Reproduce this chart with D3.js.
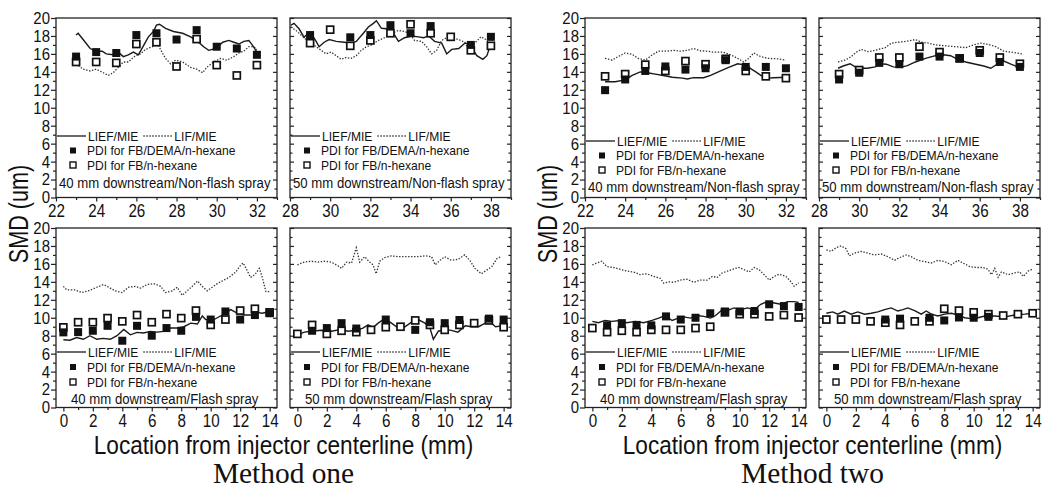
<!DOCTYPE html>
<html>
<head>
<meta charset="utf-8">
<script src="https://cdn.jsdelivr.net/npm/d3@7"></script>
<style>
  body { margin: 0; background: #fff; }
  svg { display: block; }
  text { font-family: "Liberation Sans", Arial, sans-serif; fill: #111; }
</style>
</head>
<body>
<svg id="chart" width="1052" height="489"></svg>
<script>
// x categories
const xNf40 = [23, 24, 25, 26, 27, 28, 29, 30, 31, 32]
const xNf50 = [29, 30, 31, 32, 33, 34, 35, 36, 37, 38]
const xFlash = [0, 1, 2, 3, 4, 5, 6, 7, 8, 9, 10, 11, 12, 13, 14]

// tick labels
const yTicks = [0, 2, 4, 6, 8, 10, 12, 14, 16, 18, 20]
const yMinor = [1, 3, 5, 7, 9, 11, 13, 15, 17, 19]
const xTicksNf40 = [22, 24, 26, 28, 30, 32]
const xMinorNf40 = [23, 25, 27, 29, 31, 33]
const xTicksNf50 = [28, 30, 32, 34, 36, 38]
const xMinorNf50 = [29, 31, 33, 35, 37, 39]
const xTicksFlash = [0, 2, 4, 6, 8, 10, 12, 14]
const xMinorFlash = [1, 3, 5, 7, 9, 11, 13]

// Method one, 40 mm, non-flash
const m1Nf40Dema = [15.7, 16.2, 16.1, 18.1, 18.3, 17.6, 18.65, 16.8, 16.6, 15.9]
const m1Nf40Hex = [15.1, 15.1, 15.0, 17.1, 17.3, 14.6, 17.65, 14.75, 13.6, 14.75]
const m1Nf40Lief = [[23.0,18.1],[23.1,18.3],[23.35,17.6],[23.7,16.6],[24.0,16.3],[24.3,16.3],[24.5,16.0],[24.85,15.9],[25.1,16.2],[25.35,15.7],[25.6,15.9],[25.85,16.2],[26.1,15.9],[26.35,16.9],[26.6,17.9],[26.85,18.5],[27.0,19.2],[27.15,19.3],[27.45,18.85],[27.85,18.5],[28.3,18.3],[28.7,17.9],[29.0,17.5],[29.35,16.8],[29.6,16.4],[29.95,16.6],[30.3,17.3],[30.6,17.5],[30.85,17.3],[31.1,17.1],[31.35,17.4],[31.6,17.5],[31.8,16.9],[32.0,16.2]]
const m1Nf40Lif = [[23.0,14.9],[23.35,14.3],[23.7,14.1],[24.0,14.3],[24.35,13.9],[24.6,13.6],[24.85,13.9],[25.1,14.5],[25.35,15.1],[25.6,15.1],[25.8,15.5],[25.95,15.8],[26.2,16.0],[26.45,16.5],[26.8,16.8],[27.05,17.2],[27.2,16.5],[27.45,15.5],[27.7,14.9],[27.95,15.3],[28.3,15.1],[28.7,14.5],[29.0,14.3],[29.3,13.9],[29.5,14.5],[29.85,15.1],[30.2,15.5],[30.5,15.3],[30.85,15.7],[31.1,16.1],[31.35,16.3],[31.6,16.8],[31.85,16.8],[32.0,16.5]]

// Method one, 50 mm, non-flash
const m1Nf50Dema = [18.1, null, 17.85, 18.1, 19.2, 18.3, 19.1, null, 17.0, 17.9]
const m1Nf50Hex = [17.2, 18.7, 16.9, 17.5, 18.3, 19.3, 18.3, 17.9, 16.4, 16.9]
const m1Nf50Lief = [[28.05,19.2],[28.2,19.4],[28.45,18.8],[28.7,17.85],[28.95,18.4],[29.1,18.1],[29.3,17.4],[29.45,16.8],[29.7,17.3],[29.95,17.6],[30.3,17.4],[30.7,17.3],[31.05,17.2],[31.3,17.4],[31.65,18.3],[31.9,19.0],[32.15,19.4],[32.3,19.7],[32.55,18.85],[32.8,18.8],[33.15,18.3],[33.4,17.4],[33.7,17.8],[34.05,18.0],[34.4,17.9],[34.65,17.8],[34.9,18.0],[35.2,17.4],[35.55,17.2],[35.8,16.0],[36.05,16.5],[36.4,16.6],[36.7,17.2],[36.95,17.1],[37.1,16.5],[37.3,15.8],[37.6,15.4],[37.8,15.8],[37.95,16.8],[38.05,17.3]]
const m1Nf50Lif = [[28.05,19.0],[28.3,18.6],[28.55,18.1],[28.8,17.6],[29.05,17.2],[29.3,16.8],[29.55,16.4],[29.8,16.0],[30.05,16.2],[30.3,15.8],[30.55,15.4],[30.8,15.6],[31.05,15.5],[31.3,15.8],[31.55,16.4],[31.8,16.8],[32.05,17.0],[32.4,17.5],[32.7,17.8],[33.05,18.3],[33.4,18.6],[33.7,18.5],[33.95,18.3],[34.2,17.5],[34.55,17.4],[34.8,16.8],[35.05,16.0],[35.3,16.4],[35.55,17.5],[35.8,17.8],[36.05,17.8],[36.4,17.6],[36.7,17.3],[36.95,16.3],[37.2,17.2],[37.5,17.9],[37.75,17.6],[38.0,16.9]]

// Method one, 40 mm, flash
const m1Fl40Dema = [8.37, 8.4, 8.55, 9.1, 7.44, 9.1, 8.0, 8.85, 8.55, 10.1, 9.8, 10.7, 9.8, 10.3, 10.5]
const m1Fl40Hex = [8.93, 9.5, 9.5, 9.96, 9.6, 10.3, 9.5, 10.4, 9.96, 10.8, 9.2, 9.8, 10.8, 11.0, 10.6]
const m1Fl40Lief = [[0,7.55],[0.45,7.5],[0.9,7.8],[1.36,7.6],[1.8,8.0],[2.27,7.6],[2.7,7.7],[3.18,7.6],[3.64,8.0],[4.1,8.7],[4.55,8.1],[5.0,8.37],[5.45,8.3],[5.9,8.48],[6.36,8.4],[6.8,8.48],[7.27,8.85],[7.73,8.85],[8.18,9.0],[8.64,9.4],[9.1,9.3],[9.43,10.2],[9.66,9.8],[10.1,9.7],[10.45,10.0],[10.9,10.4],[11.36,10.9],[11.7,10.6],[12.27,10.3],[12.7,10.3],[13.1,10.6],[13.5,10.5],[14.0,10.7]]
const m1Fl40Lif = [[0,13.5],[0.23,13.1],[0.8,13.1],[1.25,12.8],[1.7,13.0],[2.27,13.4],[2.73,13.7],[3.18,13.3],[3.52,13.0],[3.98,12.8],[4.43,13.4],[4.89,13.5],[5.23,13.3],[5.68,13.7],[6.14,13.8],[6.6,13.5],[6.93,12.8],[7.39,13.0],[7.73,13.4],[8.07,12.5],[8.4,13.0],[8.75,13.5],[9.1,14.1],[9.43,13.5],[9.77,13.0],[10.1,13.4],[10.45,13.8],[10.9,14.2],[11.25,14.5],[11.7,15.1],[12.05,15.9],[12.2,16.1],[12.4,15.5],[12.7,14.5],[13.0,14.8],[13.3,15.5],[13.5,14.5],[13.75,12.9],[14.0,12.9]]

// Method one, 50 mm, flash
const m1Fl50Dema = [null, 8.55, 8.85, 9.4, 8.8, null, 9.8, null, 8.65, 9.5, 9.4, 9.75, null, 9.9, 9.8]
const m1Fl50Hex = [8.2, 9.2, 8.2, 8.55, 8.4, 8.65, 8.95, 9.0, 9.7, 9.2, 8.65, 9.2, 9.4, 9.7, 8.95]
const m1Fl50Lief = [[0,8.1],[0.48,8.4],[0.93,8.5],[1.6,8.6],[2.3,8.5],[2.98,8.7],[3.43,8.5],[4.0,8.6],[4.45,8.85],[4.8,9.2],[5.14,8.9],[5.48,9.4],[5.93,9.9],[6.39,9.4],[6.84,8.85],[7.3,9.0],[7.75,9.5],[8.2,9.8],[8.66,9.4],[9.0,8.85],[9.23,7.6],[9.57,8.5],[10.0,8.7],[10.45,8.6],[10.9,8.4],[11.4,9.1],[11.84,9.0],[12.3,9.0],[12.75,9.4],[13.1,9.5],[13.45,9.0],[13.9,9.1]]
const m1Fl50Lif = [[0,15.9],[0.48,16.2],[0.93,16.3],[1.39,16.2],[1.84,16.3],[2.3,16.2],[2.75,15.8],[3.0,15.5],[3.34,16.2],[3.68,16.1],[4.0,17.8],[4.23,16.2],[4.57,16.8],[4.9,16.2],[5.14,15.9],[5.35,14.9],[5.59,16.3],[5.93,16.7],[6.39,16.9],[6.84,16.8],[7.3,16.8],[7.75,16.8],[8.2,16.8],[8.66,16.9],[9.11,16.8],[9.35,15.9],[9.68,16.4],[10.0,16.8],[10.45,16.4],[10.9,16.5],[11.36,17.0],[11.7,16.4],[12.05,15.5],[12.5,14.9],[12.84,15.3],[13.2,15.7],[13.55,16.6],[13.8,16.8]]

// Method two, 40 mm, non-flash
const m2Nf40Dema = [11.96, 13.15, 14.1, 14.6, 14.25, 14.4, 15.3, 14.55, 14.55, 14.4]
const m2Nf40Hex = [13.5, 13.75, 14.8, 14.1, 15.2, 14.85, 15.45, 14.1, 13.5, 13.3]
const m2Nf40Lief = [[23.0,12.9],[23.5,12.9],[24.0,13.1],[24.35,13.6],[24.75,14.0],[25.1,13.9],[25.5,13.75],[25.9,13.6],[26.35,13.4],[26.85,13.3],[27.1,13.2],[27.4,13.35],[27.9,13.35],[28.25,13.6],[28.75,14.1],[29.15,14.5],[29.6,14.9],[29.85,14.8],[30.15,14.5],[30.5,14.0],[30.75,13.6],[31.1,13.3],[31.4,13.35],[32.0,13.4]]
const m2Nf40Lif = [[23.0,15.5],[23.35,15.3],[23.65,15.7],[24.0,16.1],[24.35,15.95],[24.65,15.5],[25.0,15.3],[25.35,15.9],[25.65,16.3],[26.1,16.3],[26.4,16.4],[26.75,16.3],[27.1,16.4],[27.4,16.6],[27.75,16.35],[28.1,16.3],[28.4,16.2],[28.85,16.2],[29.25,15.9],[29.6,15.5],[29.9,15.1],[30.15,15.5],[30.4,16.1],[30.75,15.7],[31.1,15.5],[31.6,15.45],[32.0,15.3]]

// Method two, 50 mm, non-flash
const m2Nf50Dema = [13.15, 13.9, 15.0, 14.85, 15.7, 15.7, 15.5, 16.1, 15.1, 14.55]
const m2Nf50Hex = [13.75, 14.2, 15.6, 15.6, 16.8, 16.2, 15.5, 16.4, 15.6, 14.9]
const m2Nf50Lief = [[28.95,14.4],[29.2,14.65],[29.55,14.9],[29.8,14.55],[30.05,14.4],[30.4,14.4],[30.8,14.55],[31.05,14.9],[31.35,14.85],[31.7,14.55],[32.05,14.5],[32.4,14.7],[32.8,15.1],[33.3,15.5],[33.8,15.8],[34.2,15.9],[34.55,15.8],[34.85,15.45],[35.3,15.1],[35.8,14.85],[36.2,14.65],[36.55,14.4],[36.9,14.9],[37.2,15.2],[37.55,14.85],[37.9,14.55],[38.05,14.5]]
const m2Nf50Lif = [[28.95,15.1],[29.3,15.3],[29.6,15.7],[29.87,16.2],[30.1,16.5],[30.45,16.25],[30.7,16.35],[30.95,16.5],[31.3,16.7],[31.6,17.2],[31.95,17.3],[32.35,17.4],[32.8,17.6],[33.1,17.3],[33.45,17.2],[33.8,17.0],[34.3,16.9],[34.8,16.8],[35.3,16.7],[35.7,17.0],[36.05,17.2],[36.45,17.05],[36.8,16.8],[37.2,16.3],[37.55,16.2],[37.85,16.1],[38.1,16.0]]

// Method two, 40 mm, flash
const m2Fl40Dema = [null, 9.15, 9.4, 9.2, 9.15, 10.15, 9.8, 10.0, 10.5, 10.7, 10.7, 10.75, 11.5, 11.3, 11.2]
const m2Fl40Hex = [8.85, 8.4, 8.55, 8.4, 8.65, 8.65, 8.65, 8.85, 9.0, 10.6, 10.4, 10.4, 10.15, 10.3, 10.03]
const m2Fl40Lief = [[0,9.6],[0.41,9.45],[0.86,9.7],[1.32,9.6],[1.89,9.7],[2.34,9.45],[2.91,9.6],[3.48,9.45],[4.05,9.7],[4.5,9.96],[4.95,10.25],[5.41,9.7],[5.75,9.9],[6.2,10.1],[6.66,9.96],[7.11,10.25],[7.57,10.15],[8.02,9.96],[8.36,10.25],[8.82,10.9],[9.16,10.8],[9.61,11.1],[10.07,10.9],[10.52,11.1],[10.98,10.9],[11.43,11.5],[11.89,11.8],[12.34,11.65],[12.8,11.5],[13.25,11.8],[13.7,11.8],[14.0,11.7]]
const m2Fl40Lif = [[0,15.9],[0.3,16.1],[0.64,16.3],[0.98,15.7],[1.43,15.6],[1.89,15.4],[2.34,15.2],[2.8,15.1],[3.25,14.8],[3.7,14.9],[4.16,14.6],[4.61,14.4],[4.84,13.85],[5.18,14.0],[5.52,13.95],[5.98,14.2],[6.43,14.3],[6.89,13.95],[7.34,14.2],[7.8,14.2],[8.14,14.6],[8.48,14.5],[8.82,15.0],[9.16,15.2],[9.61,15.45],[9.95,15.6],[10.3,15.35],[10.64,15.1],[10.98,15.6],[11.32,15.35],[11.66,14.8],[12.0,14.2],[12.34,14.6],[12.68,14.85],[13.14,14.6],[13.48,14.0],[13.7,13.5],[14.0,13.9]]

// Method two, 50 mm, flash
const m2Fl50Dema = [null, null, null, null, 9.8, 9.9, null, 10.0, 9.7, 10.03, 10.0, 10.1, null, null, null]
const m2Fl50Hex = [9.8, 9.8, 9.8, 9.6, 9.45, 9.2, 9.6, 9.6, 11.0, 10.8, 10.6, 10.4, 10.25, 10.4, 10.5]
const m2Fl50Lief = [[0,10.5],[0.43,10.65],[0.77,10.4],[1.22,10.75],[1.68,10.4],[2.13,10.65],[2.59,10.4],[3.04,10.5],[3.49,10.65],[3.95,10.9],[4.4,11.1],[4.85,10.75],[5.19,10.9],[5.53,11.1],[5.99,10.8],[6.44,10.4],[6.78,10.75],[7.12,10.4],[7.57,10.2],[8.03,10.4],[8.48,10.5],[8.93,10.3],[9.39,10.0],[9.84,9.9],[10.29,10.0],[10.75,10.2],[11.43,10.2],[12.11,10.1],[12.79,10.3],[13.47,10.4],[14.0,10.5]]
const m2Fl50Lif = [[0,17.55],[0.32,17.4],[0.66,17.8],[1.0,18.0],[1.34,17.7],[1.56,16.9],[1.9,17.2],[2.36,17.4],[2.81,17.2],[3.27,17.0],[3.72,17.1],[4.17,16.8],[4.63,16.4],[4.97,16.7],[5.42,17.0],[5.76,16.8],[6.21,16.4],[6.67,16.25],[7.12,16.1],[7.57,16.4],[8.03,16.25],[8.48,15.9],[8.93,16.4],[9.27,16.1],[9.73,15.7],[10.18,15.6],[10.63,15.6],[10.97,15.4],[11.2,14.8],[11.43,15.5],[11.66,14.5],[11.88,15.1],[12.34,14.8],[12.79,15.0],[13.13,15.1],[13.36,14.6],[13.7,15.2],[14.04,15.45]]

// texts
const panelTitles = ['40 mm downstream/Non-flash spray', '50 mm downstream/Non-flash spray',
  '40 mm downstream/Flash spray', '50 mm downstream/Flash spray']
const groupTitles = ['Method one', 'Method two']

// layout
const groupX = [56, 585], colOff = 234, pw = 221, ph = 179.5
const rowY = [18, 228]
const K = 0.82   // the scanned figure is narrow, so squeeze the sans text

const panels = [
  { group: 0, row: 0, col: 0, xs: xNf40, dema: m1Nf40Dema, hex: m1Nf40Hex, lief: m1Nf40Lief, lif: m1Nf40Lif },
  { group: 0, row: 0, col: 1, xs: xNf50, dema: m1Nf50Dema, hex: m1Nf50Hex, lief: m1Nf50Lief, lif: m1Nf50Lif },
  { group: 0, row: 1, col: 0, xs: xFlash, dema: m1Fl40Dema, hex: m1Fl40Hex, lief: m1Fl40Lief, lif: m1Fl40Lif },
  { group: 0, row: 1, col: 1, xs: xFlash, dema: m1Fl50Dema, hex: m1Fl50Hex, lief: m1Fl50Lief, lif: m1Fl50Lif },
  { group: 1, row: 0, col: 0, xs: xNf40, dema: m2Nf40Dema, hex: m2Nf40Hex, lief: m2Nf40Lief, lif: m2Nf40Lif },
  { group: 1, row: 0, col: 1, xs: xNf50, dema: m2Nf50Dema, hex: m2Nf50Hex, lief: m2Nf50Lief, lif: m2Nf50Lif },
  { group: 1, row: 1, col: 0, xs: xFlash, dema: m2Fl40Dema, hex: m2Fl40Hex, lief: m2Fl40Lief, lif: m2Fl40Lif },
  { group: 1, row: 1, col: 1, xs: xFlash, dema: m2Fl50Dema, hex: m2Fl50Hex, lief: m2Fl50Lief, lif: m2Fl50Lif }
]

const svg = d3.select('#chart')
svg.append('rect').attr('width', 1052).attr('height', 489).attr('fill', '#fff')

// put a text at (x,y), squeezed horizontally
const label = (g, x, y, str, size, opt = {}) => {
  const t = g.append('text')
    .attr('transform', `translate(${x},${y})${opt.rot ? ' rotate(-90)' : ''} scale(${opt.k || K},1)`)
    .attr('font-size', size)
    .attr('text-anchor', opt.anchor || 'start')
    .attr('dy', '0.35em')
    .text(str)
  if (opt.serif) t.style('font-family', '"Liberation Serif", "Times New Roman", serif')
  return t
}

// squeeze axis tick labels
const squeeze = (sel, size, k) => {
  sel.attr('font-size', size).each(function () {
    const t = d3.select(this)
    const x = +t.attr('x') || 0, y = +t.attr('y') || 0
    t.attr('x', null).attr('y', null).attr('transform', `translate(${x},${y}) scale(${k},1)`)
  })
}

const drawPanel = (p) => {
  const flash = p.row === 1
  const domain = flash ? [-0.5, 14.5] : (p.col ? [28, 39] : [22, 33])
  const majors = flash ? xTicksFlash : (p.col ? xTicksNf50 : xTicksNf40)
  const minors = flash ? xMinorFlash : (p.col ? xMinorNf50 : xMinorNf40)
  const g = svg.append('g')
    .attr('transform', `translate(${groupX[p.group] + p.col * colOff},${rowY[p.row]})`)
  const x = d3.scaleLinear().domain(domain).range([0, pw])
  const y = d3.scaleLinear().domain([0, 20]).range([ph, 0])

  g.append('rect').attr('width', pw).attr('height', ph)
    .attr('fill', 'none').attr('stroke', '#222').attr('stroke-width', 1.3)

  // y axis: labelled on the first panel, mirrored ticks elsewhere
  if (p.col === 0) {
    const ya = g.append('g').call(d3.axisLeft(y).tickValues(yTicks).tickSize(5).tickPadding(1))
    squeeze(ya.selectAll('text'), 17, 0.88)
    g.append('g').call(d3.axisLeft(y).tickValues(yMinor).tickSize(3).tickFormat(''))
  } else {
    g.append('g').call(d3.axisRight(y).tickValues(yTicks).tickSize(4).tickFormat(''))
    g.append('g').call(d3.axisRight(y).tickValues(yMinor).tickSize(2.5).tickFormat(''))
  }
  g.append('g').attr('transform', `translate(${pw},0)`)
    .call(d3.axisLeft(y).tickValues(yTicks).tickSize(4).tickFormat(''))
  g.append('g').attr('transform', `translate(${pw},0)`)
    .call(d3.axisLeft(y).tickValues(yMinor).tickSize(2.5).tickFormat(''))

  // x axis
  const xa = g.append('g').attr('transform', `translate(0,${ph})`)
    .call(d3.axisBottom(x).tickValues(majors).tickSize(4).tickPadding(2))
  squeeze(xa.selectAll('text'), 19, 0.8)
  g.append('g').attr('transform', `translate(0,${ph})`)
    .call(d3.axisBottom(x).tickValues(minors).tickSize(2.5).tickFormat(''))

  g.selectAll('.domain').remove()
  g.selectAll('.tick line').attr('stroke', '#222').attr('stroke-width', 1.2)

  // lines
  const line = d3.line().x(d => x(d[0])).y(d => y(d[1]))
  g.append('path').datum(p.lif).attr('d', line)
    .attr('fill', 'none').attr('stroke', '#333').attr('stroke-width', 1.3)
    .attr('stroke-dasharray', '1.4 1.6')
  g.append('path').datum(p.lief).attr('d', line)
    .attr('fill', 'none').attr('stroke', '#1a1a1a').attr('stroke-width', 1.4)

  // PDI squares
  const pts = (vals) => p.xs.map((v, i) => [v, vals[i]]).filter(d => d[1] != null)
  g.selectAll('.hex').data(pts(p.hex)).join('rect').attr('class', 'hex')
    .attr('x', d => x(d[0]) - 3.5).attr('y', d => y(d[1]) - 3.5)
    .attr('width', 7).attr('height', 7)
    .attr('fill', '#fff').attr('stroke', '#111').attr('stroke-width', 1.7)
  g.selectAll('.dema').data(pts(p.dema)).join('rect').attr('class', 'dema')
    .attr('x', d => x(d[0]) - 4).attr('y', d => y(d[1]) - 4)
    .attr('width', 8).attr('height', 8).attr('fill', '#111')

  // legend
  const ly = flash ? [124, 139, 154, 171] : (p.group ? [123, 137.5, 152, 168.5] : [118, 132.5, 147, 165])
  const lk = 0.93, lf = 13
  g.append('line').attr('x1', 1).attr('x2', 30).attr('y1', ly[0]).attr('y2', ly[0])
    .attr('stroke', '#1a1a1a').attr('stroke-width', 1.3)
  const t1 = label(g, 32, ly[0], 'LIEF/MIE', lf, { k: lk })
  const e1 = 32 + t1.node().getComputedTextLength() * lk
  g.append('line').attr('x1', e1 + 5).attr('x2', e1 + 34).attr('y1', ly[0]).attr('y2', ly[0])
    .attr('stroke', '#333').attr('stroke-width', 1.3).attr('stroke-dasharray', '1.4 1.6')
  label(g, e1 + 36, ly[0], 'LIF/MIE', lf, { k: lk })
  g.append('rect').attr('x', 14).attr('y', ly[1] - 3).attr('width', 6).attr('height', 6).attr('fill', '#111')
  label(g, 31, ly[1], 'PDI for FB/DEMA/n-hexane', lf, { k: lk })
  g.append('rect').attr('x', 14).attr('y', ly[2] - 3).attr('width', 6).attr('height', 6)
    .attr('fill', '#fff').attr('stroke', '#111').attr('stroke-width', 1.4)
  label(g, 31, ly[2], 'PDI for FB/n-hexane', lf, { k: lk })
  label(g, flash ? 15 : 3, ly[3], panelTitles[p.row * 2 + p.col], 15.5, { k: 0.85 })
}

panels.forEach(drawPanel)

// group titles
groupX.forEach((gx, i) => {
  const cx = gx + (colOff + pw) / 2
  label(svg, gx - 37, 214, 'SMD (um)', 27, { rot: true, anchor: 'middle', k: 0.8 })
  label(svg, cx, 445, 'Location from injector centerline (mm)', 26, { anchor: 'middle', k: 0.87 })
  label(svg, cx, 472, groupTitles[i], 30, { anchor: 'middle', k: 0.98, serif: true })
})
</script>
</body>
</html>
